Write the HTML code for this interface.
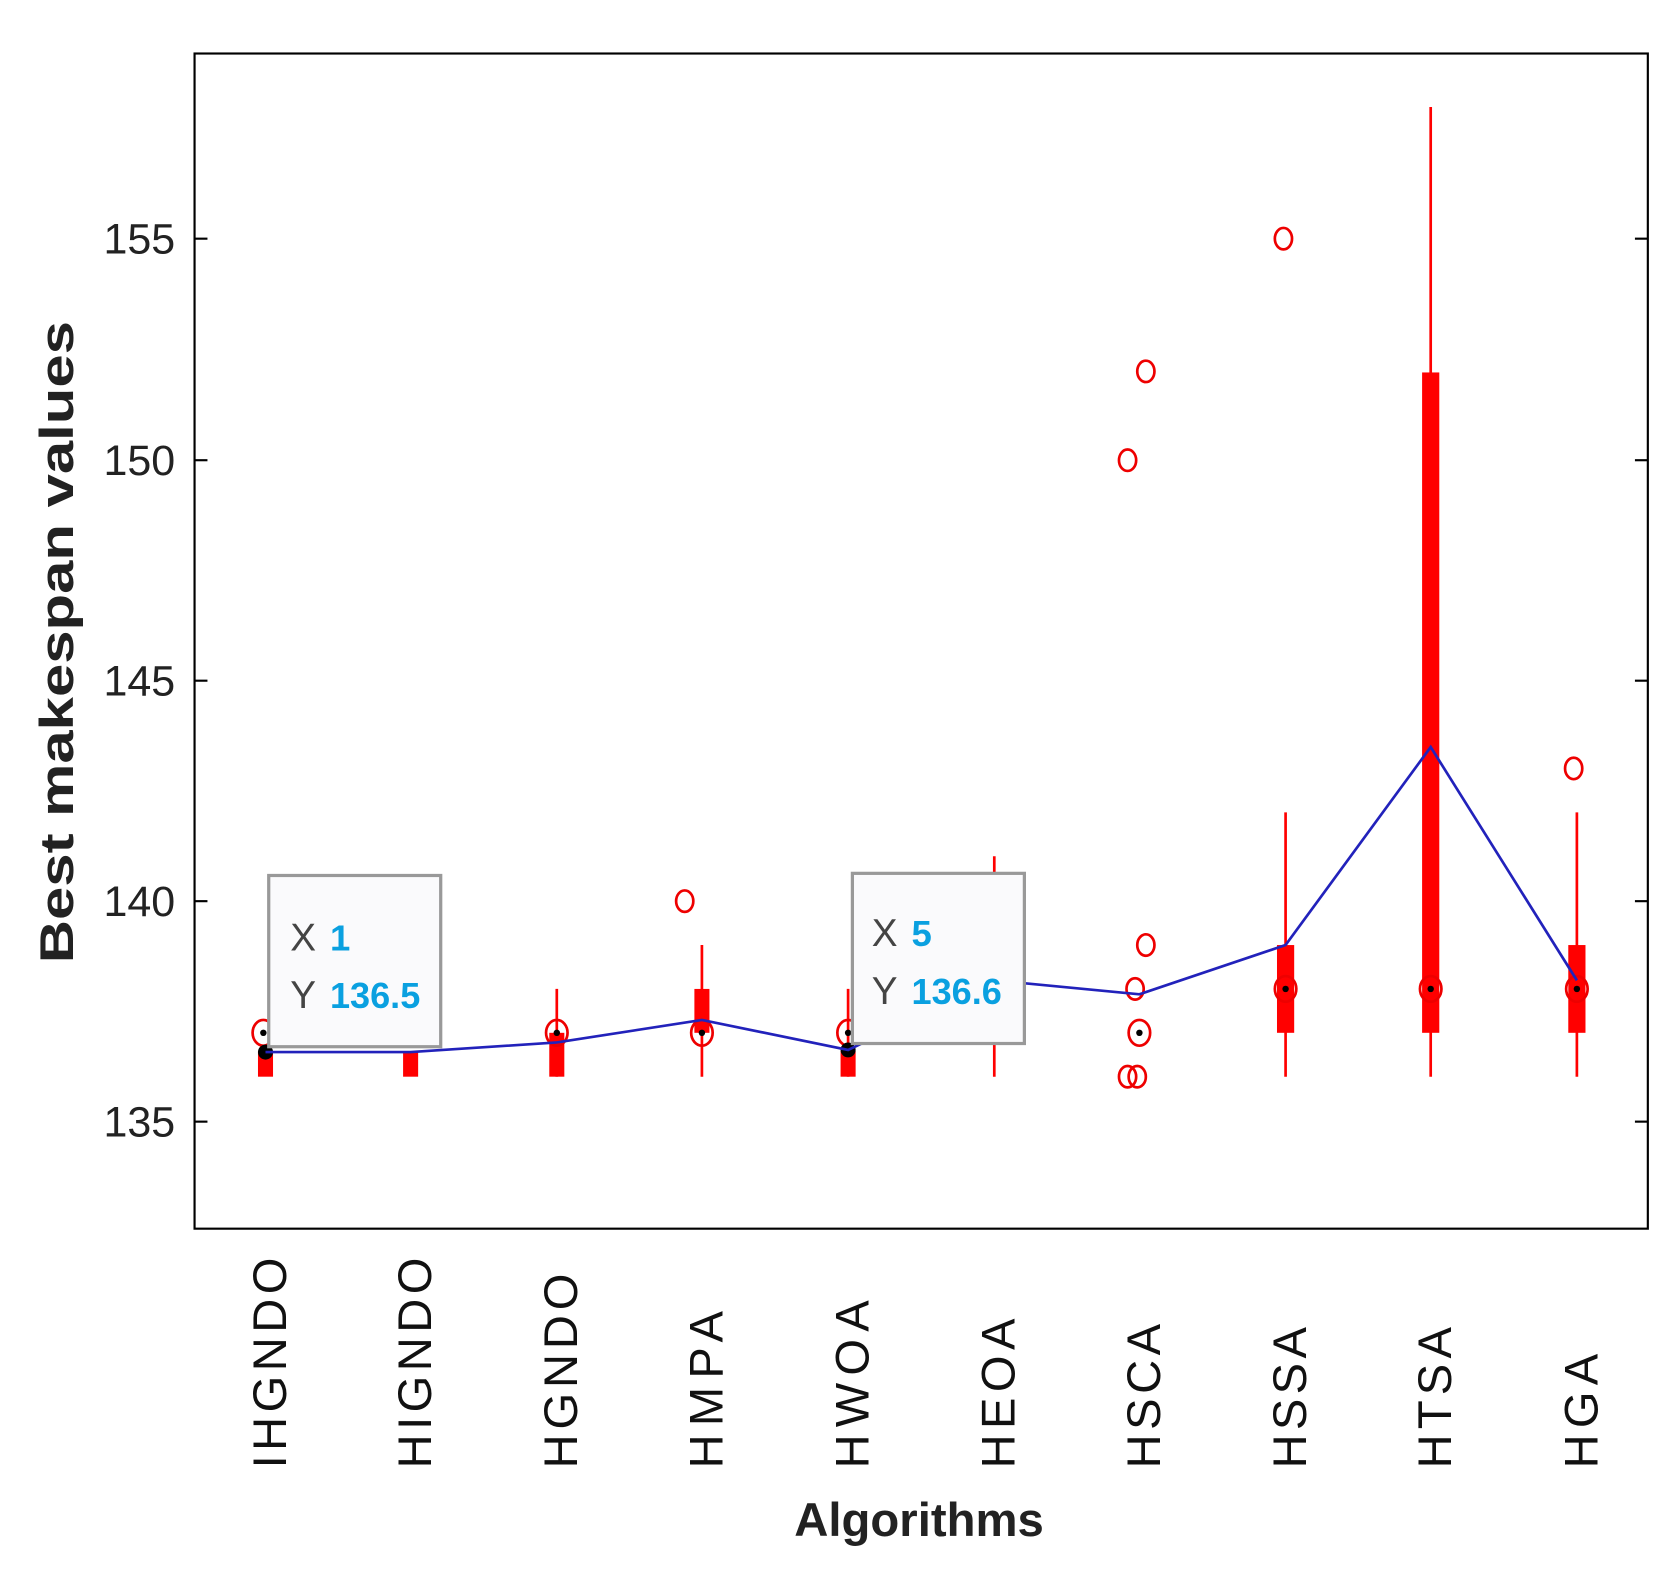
<!DOCTYPE html>
<html><head><style>body{margin:0;background:#fff}svg{display:block}</style></head><body>
<svg width="1679" height="1584" viewBox="0 0 1562 1480" preserveAspectRatio="none" xmlns="http://www.w3.org/2000/svg" font-family="Liberation Sans, sans-serif">
<rect x="181" y="50" width="1352" height="1098" fill="#fff" stroke="#000" stroke-width="2"/>
<g stroke="#000" stroke-width="2">
<line x1="181" y1="223" x2="193" y2="223"/><line x1="1521" y1="223" x2="1533" y2="223"/>
<line x1="181" y1="430" x2="193" y2="430"/><line x1="1521" y1="430" x2="1533" y2="430"/>
<line x1="181" y1="636" x2="193" y2="636"/><line x1="1521" y1="636" x2="1533" y2="636"/>
<line x1="181" y1="842" x2="193" y2="842"/><line x1="1521" y1="842" x2="1533" y2="842"/>
<line x1="181" y1="1048" x2="193" y2="1048"/><line x1="1521" y1="1048" x2="1533" y2="1048"/>
</g>
<g font-size="40" fill="#222" text-anchor="end">
<text x="163" y="237">155</text><text x="163" y="444">150</text><text x="163" y="650">145</text><text x="163" y="856">140</text><text x="163" y="1062">135</text>
</g>
<g stroke="#f00" stroke-width="2.5">
<line x1="518" y1="924" x2="518" y2="1006"/>
<line x1="653" y1="883" x2="653" y2="1006"/>
<line x1="789" y1="924" x2="789" y2="1006"/>
<line x1="925" y1="800" x2="925" y2="1006"/>
<line x1="1196" y1="759" x2="1196" y2="1006"/>
<line x1="1331" y1="100" x2="1331" y2="1006"/>
<line x1="1467" y1="759" x2="1467" y2="1006"/>
</g>
<g fill="#f00">
<rect x="240" y="982" width="14" height="24"/>
<rect x="375" y="982" width="14" height="24"/>
<rect x="511" y="965" width="14" height="41"/>
<rect x="646" y="924" width="14" height="41"/>
<rect x="782" y="982" width="14" height="24"/>
<rect x="1188" y="883" width="16" height="82"/>
<rect x="1323" y="348" width="16" height="617"/>
<rect x="1459" y="883" width="16" height="82"/>
</g>
<g fill="none" stroke="#e00" stroke-width="2.5">
<ellipse cx="637" cy="842" rx="8" ry="10"/>
<ellipse cx="1049" cy="430" rx="8" ry="10"/>
<ellipse cx="1066" cy="347" rx="8" ry="10"/>
<ellipse cx="1066" cy="883" rx="8" ry="10"/>
<ellipse cx="1056" cy="924" rx="8" ry="10"/>
<ellipse cx="1049" cy="1006" rx="8" ry="10"/><ellipse cx="1058" cy="1006" rx="8" ry="10"/>
<ellipse cx="1194" cy="223" rx="8" ry="10"/>
<ellipse cx="1464" cy="718" rx="8" ry="10"/>
<ellipse cx="245" cy="965" rx="10" ry="12"/>
<ellipse cx="518" cy="965" rx="10" ry="12"/>
<ellipse cx="653" cy="965" rx="10" ry="12"/>
<ellipse cx="789" cy="965" rx="10" ry="12"/>
<ellipse cx="1060" cy="965" rx="10" ry="12"/>
<ellipse cx="1196" cy="924" rx="10" ry="12"/>
<ellipse cx="1331" cy="924" rx="10" ry="12"/>
<ellipse cx="1467" cy="924" rx="10" ry="12"/>
</g>
<g fill="#000">
<circle cx="245" cy="965" r="3"/><circle cx="518" cy="965" r="3"/><circle cx="653" cy="965" r="3"/><circle cx="789" cy="965" r="3"/><circle cx="1060" cy="965" r="3"/><circle cx="1196" cy="924" r="3"/><circle cx="1331" cy="924" r="3"/><circle cx="1467" cy="924" r="3"/>
<circle cx="247" cy="983" r="7"/><circle cx="789" cy="981" r="7"/>
</g>
<polyline fill="none" stroke="#2222bb" stroke-width="2.5" points="247,983 382,983 518,974 653,953 789,981 925,916 1060,929 1196,883 1331,698 1467,916"/>
<rect x="250" y="818" width="160" height="160" fill="#fafafc" stroke="#999" stroke-width="3"/>
<text x="270" y="888" font-size="36" fill="#444">X</text><text x="307" y="888" font-size="34" font-weight="bold" fill="#0aa0e0">1</text>
<text x="270" y="942" font-size="36" fill="#444">Y</text><text x="307" y="942" font-size="34" font-weight="bold" fill="#0aa0e0" textLength="84" lengthAdjust="spacingAndGlyphs">136.5</text>
<rect x="793" y="816" width="160" height="159" fill="#fafafc" stroke="#999" stroke-width="3"/>
<text x="811" y="884" font-size="36" fill="#444">X</text><text x="848" y="884" font-size="34" font-weight="bold" fill="#0aa0e0">5</text>
<text x="811" y="938" font-size="36" fill="#444">Y</text><text x="848" y="938" font-size="34" font-weight="bold" fill="#0aa0e0" textLength="84" lengthAdjust="spacingAndGlyphs">136.6</text>
<g font-size="44" fill="#111" lengthAdjust="spacingAndGlyphs">
<text transform="translate(266,1372) rotate(-90)" textLength="197">IHGNDO</text>
<text transform="translate(401,1372) rotate(-90)" textLength="197">HIGNDO</text>
<text transform="translate(537,1372) rotate(-90)" textLength="182">HGNDO</text>
<text transform="translate(672,1372) rotate(-90)" textLength="147">HMPA</text>
<text transform="translate(808,1372) rotate(-90)" textLength="157">HWOA</text>
<text transform="translate(944,1372) rotate(-90)" textLength="140">HEOA</text>
<text transform="translate(1079,1372) rotate(-90)" textLength="135">HSCA</text>
<text transform="translate(1215,1372) rotate(-90)" textLength="132">HSSA</text>
<text transform="translate(1350,1372) rotate(-90)" textLength="132">HTSA</text>
<text transform="translate(1486,1372) rotate(-90)" textLength="107">HGA</text>
</g>
<text x="855" y="1435" font-size="44" font-weight="bold" text-anchor="middle" fill="#222">Algorithms</text>
<text transform="translate(68,600) rotate(-90)" font-size="44" font-weight="bold" text-anchor="middle" fill="#222" textLength="600" lengthAdjust="spacingAndGlyphs">Best makespan values</text>
</svg>
</body></html>
